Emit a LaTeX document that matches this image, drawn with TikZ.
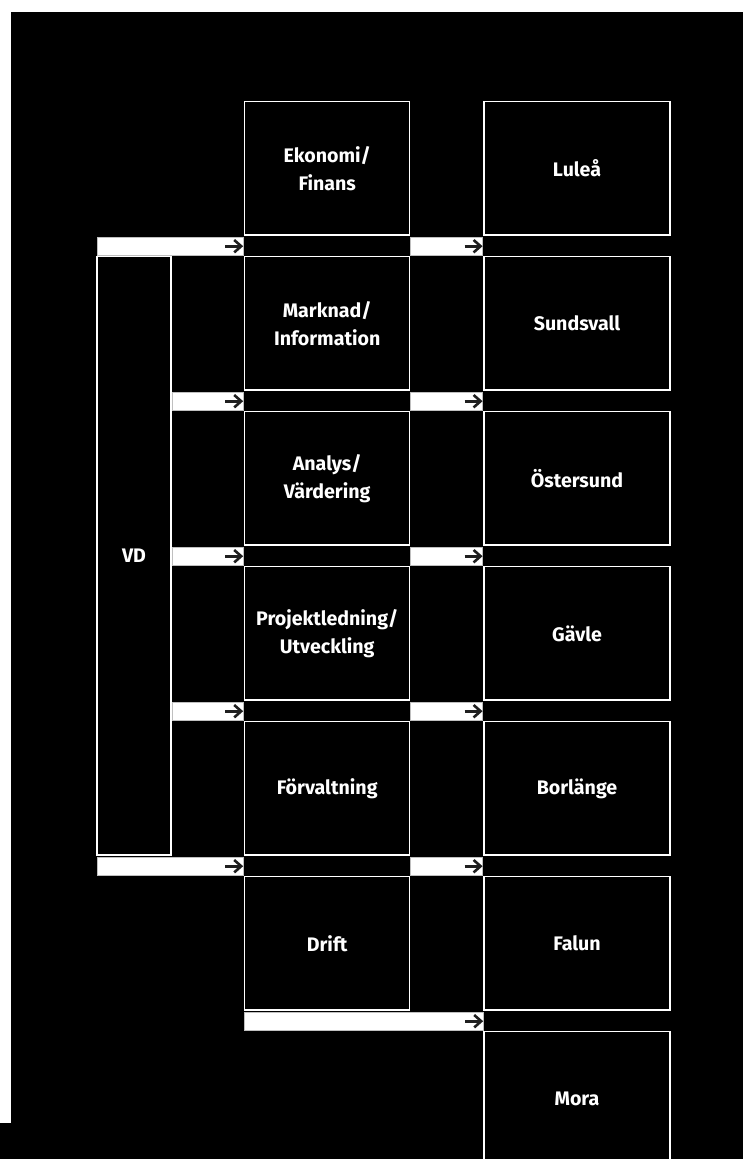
\documentclass[tikz,border=0pt]{standalone}
\usepackage{fontspec}
\setmainfont{Fira Sans}
\usetikzlibrary{calc}
\begin{document}
\begin{tikzpicture}[x=1pt,y=-1pt,
  boxn/.style={draw=white, line width=1.5pt, rectangle, inner sep=0pt,
    text=white, align=center, font=\bfseries\fontsize{19.6}{28}\selectfont},
  dept/.style={boxn, minimum width=165pt, minimum height=133.5pt},
  city/.style={boxn, minimum width=186pt, minimum height=133.5pt},
  strip/.style={rectangle, fill=white, draw=black!25, line width=0.8pt,
    inner sep=0pt, minimum height=17.6pt},
  arr/.style={draw=black!88, line width=2.6pt},
]
\useasboundingbox (0,0) rectangle (743,1159);
\fill[black] (11,12) rectangle (743,1159);
\fill[black] (0,1123) rectangle (11,1159);

% department boxes
\node[dept] (eko) at (327.2,168.45) {Ekonomi/\\Finans};
\node[dept] (mark) at (327.2,323.45) {Marknad/\\Information};
\node[dept] (anal) at (327.2,478.45) {Analys/\\Värdering};
\node[dept] (proj) at (327.2,633.45) {Projektledning/\\Utveckling};
\node[dept] (forv) at (327.2,788.45) {Förvaltning};
\node[dept] (drift) at (327.2,943.45) {Drift};

% city boxes
\node[city] (lulea) at (577,168.45) {Luleå};
\node[city] (sund) at (577,323.45) {Sundsvall};
\node[city] (oster) at (577,478.45) {Östersund};
\node[city] (gavle) at (577,633.45) {Gävle};
\node[city] (borl) at (577,788.45) {Borlänge};
\node[city] (falun) at (577,943.45) {Falun};
\node[city] (mora) at (577,1098.45) {Mora};

% VD
\node[boxn, minimum width=74pt, minimum height=598.5pt] (vd) at (134,555.95) {VD};

% left strips
\node[strip, minimum width=146.3pt] (l0) at (170.15,246.2) {};
\node[strip, minimum width=71.3pt] (l1) at (207.65,401.2) {};
\node[strip, minimum width=71.3pt] (l2) at (207.65,556.2) {};
\node[strip, minimum width=71.3pt] (l3) at (207.65,711.2) {};
\node[strip, minimum width=146.3pt] (l4) at (170.15,866.2) {};
\node[strip, minimum width=239pt] (l5) at (363.8,1021.2) {};
% right strips
\node[strip, minimum width=72pt] (r0) at (446.7,246.2) {};
\node[strip, minimum width=72pt] (r1) at (446.7,401.2) {};
\node[strip, minimum width=72pt] (r2) at (446.7,556.2) {};
\node[strip, minimum width=72pt] (r3) at (446.7,711.2) {};
\node[strip, minimum width=72pt] (r4) at (446.7,866.2) {};

% arrows
\foreach \s in {l0,l1,l2,l3,l4,l5,r0,r1,r2,r3,r4}{
  \coordinate (t) at ($(\s.east)+(-2.5,0)$);
  \draw[arr] ($(t)+(-16,0)$) -- ($(t)+(-1,0)$);
  \draw[arr, line join=miter, miter limit=4] ($(t)+(-7,-6.2)$) -- (t) -- ($(t)+(-7,6.2)$);
}
\end{tikzpicture}
\end{document}
